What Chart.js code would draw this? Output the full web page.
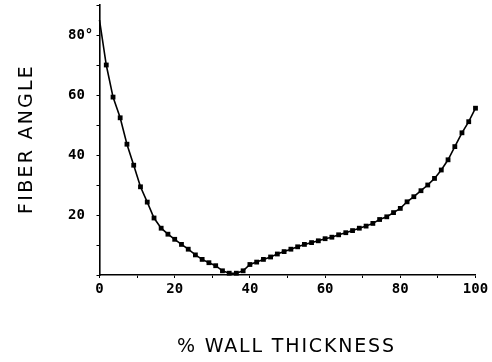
<!DOCTYPE html>
<html><head><meta charset="utf-8">
<script src="https://cdn.jsdelivr.net/npm/chart.js@4.4.0/dist/chart.umd.min.js"></script>
<style>html,body{margin:0;padding:0;background:#fff}</style>
</head><body>
<canvas id="c" width="492" height="362"></canvas>
<script>
// % wall thickness (x) of each plotted point
const wallThickness = [0, 1.8, 3.6, 5.5, 7.3, 9.1, 10.9, 12.7, 14.5, 16.4, 18.2, 20, 21.8, 23.6, 25.5, 27.3, 29.1, 30.9, 32.7, 34.5, 36.4, 38.2, 40, 41.8, 43.6, 45.5, 47.3, 49.1, 50.9, 52.7, 54.5, 56.4, 58.2, 60, 61.8, 63.6, 65.5, 67.3, 69.1, 70.9, 72.7, 74.5, 76.4, 78.2, 80, 81.8, 83.6, 85.5, 87.3, 89.1, 90.9, 92.7, 94.5, 96.4, 98.2, 100];
// fiber angle (degrees)
const fiberAngle = [85, 70.0, 59.3, 52.4, 43.6, 36.6, 29.4, 24.3, 19.0, 15.6, 13.6, 11.9, 10.2, 8.6, 6.7, 5.2, 4.1, 3.1, 1.4, 0.6, 0.6, 1.4, 3.5, 4.3, 5.2, 6.0, 7.0, 7.8, 8.6, 9.4, 10.2, 10.8, 11.4, 12.1, 12.6, 13.4, 14.1, 14.8, 15.6, 16.3, 17.2, 18.5, 19.4, 20.8, 22.2, 24.4, 26.1, 28.1, 30.0, 32.2, 35.0, 38.4, 42.8, 47.4, 51.1, 55.6];
const xTickLabels = {0: '0', 20: '20', 40: '40', 60: '60', 80: '80', 100: '100'};
const yTickLabels = {20: '20', 40: '40', 60: '60', 80: '80°'};
const xTitle = '% WALL THICKNESS';
const yTitle = 'FIBER ANGLE';

const points = wallThickness.map((x, i) => ({x: x, y: fiberAngle[i]}));

const axisTitles = {
  id: 'axisTitles',
  afterDraw(chart) {
    const ctx = chart.ctx, a = chart.chartArea;
    ctx.save();
    ctx.fillStyle = '#000';
    ctx.font = '19px "DejaVu Sans"';
    ctx.textAlign = 'center';
    ctx.textBaseline = 'middle';
    function spacing(text, target) {
      ctx.letterSpacing = '0px';
      const w = ctx.measureText(text).width;
      const ls = Math.max(0, (target - w) / text.length);
      ctx.letterSpacing = ls + 'px';
      return ls;
    }
    let ls = spacing(xTitle, 219);
    ctx.fillText(xTitle, 285.5 + ls / 2, 347);
    ls = spacing(yTitle, 150);
    ctx.translate(27.5, (a.top + a.bottom) / 2);
    ctx.rotate(-Math.PI / 2);
    ctx.fillText(yTitle, ls / 2, 0);
    ctx.restore();
  }
};

new Chart(document.getElementById('c'), {
  type: 'line',
  data: {
    datasets: [{
      data: points,
      borderColor: '#000',
      backgroundColor: '#000',
      borderWidth: 1.6,
      pointStyle: 'rect',
      pointRadius: ctx => (ctx.dataIndex === 0 ? 0 : 3.4),
      pointBorderWidth: 0,
      pointBackgroundColor: '#000',
      tension: 0,
      clip: false
    }]
  },
  options: {
    responsive: false,
    animation: false,
    devicePixelRatio: 1,
    layout: {padding: {left: 68, right: 16.5, top: 5, bottom: 0}},
    plugins: {legend: {display: false}, tooltip: {enabled: false}},
    scales: {
      x: {
        type: 'linear', min: 0, max: 100,
        border: {display: true, color: '#000', width: 1.6},
        grid: {display: true, drawOnChartArea: false, drawTicks: true, tickLength: 3, color: '#000', lineWidth: 1},
        ticks: {
          stepSize: 10, autoSkip: false, maxRotation: 0, padding: 3, color: '#000',
          font: {family: '"DejaVu Sans Mono"', size: 14, weight: 'bold'},
          callback: v => (xTickLabels[v] !== undefined ? xTickLabels[v] : '')
        },
        afterFit(s) { s.height = 87; s.paddingLeft = 0; s.paddingRight = 0; }
      },
      y: {
        type: 'linear', min: 0, max: 90,
        border: {display: true, color: '#000', width: 1.6},
        grid: {display: true, drawOnChartArea: false, drawTicks: true, tickLength: 3, color: '#000', lineWidth: 1},
        ticks: {
          stepSize: 10, autoSkip: false, crossAlign: 'far', padding: 3, color: '#000',
          font: {family: '"DejaVu Sans Mono"', size: 14, weight: 'bold'},
          callback: v => (yTickLabels[v] !== undefined ? yTickLabels[v] : '')
        },
        afterFit(s) { s.width = 31.5; s.paddingTop = 0; s.paddingBottom = 0; }
      }
    }
  },
  plugins: [axisTitles]
});
</script>
</body></html>
